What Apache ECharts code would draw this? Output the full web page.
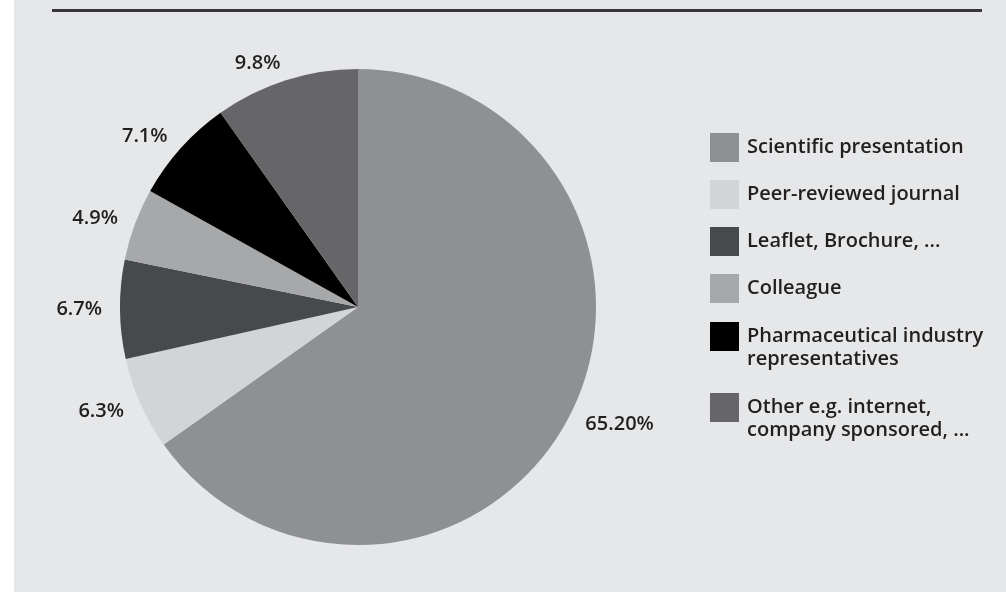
<!DOCTYPE html>
<html>
<head>
<meta charset="utf-8">
<script src="https://cdn.jsdelivr.net/npm/echarts@6/dist/echarts.min.js"></script>
<style>
  html, body { margin: 0; padding: 0; background: #ffffff; }
  #chart { width: 1006px; height: 593px; }
</style>
</head>
<body>
<div id="chart"></div>
<script>
// ---- data ----
const categories = [
  'Scientific presentation',
  'Peer-reviewed journal',
  'Leaflet, Brochure, ...',
  'Colleague',
  'Pharmaceutical industry\nrepresentatives',
  'Other e.g. internet,\ncompany sponsored, ...'
];
const values = [65.2, 6.3, 6.7, 4.9, 7.1, 9.8];
const valueLabels = ['65.20%', '6.3%', '6.7%', '4.9%', '7.1%', '9.8%'];
const colors = ['#8f9094', '#d3d4d6', '#48494b', '#a7a8aa', '#000000', '#666668'];

const textColor = '#231f20';
const fontFamily = "'Open Sans', 'Noto Sans', sans-serif";

const chart = echarts.init(document.getElementById('chart'), null, { renderer: 'canvas' });

const legendText = {
  color: textColor, fontFamily: fontFamily, fontSize: 20, fontWeight: 600,
  lineHeight: 23, padding: [0, 0, 0, 3]
};

function legendBase(names, top, twoLine) {
  return {
    orient: 'vertical', left: 710, top: top, padding: 0,
    itemWidth: 29, itemHeight: 29, itemGap: 18, icon: 'rect',
    selectedMode: false,
    data: names, textStyle: legendText,
    // for two-line names, a leading empty line keeps the first text line centred on the swatch
    formatter: twoLine ? function (n) { return '\n' + n; } : '{name}'
  };
}

chart.setOption({
  backgroundColor: '#ffffff',
  animation: false,
  color: colors,
  graphic: [
    { type: 'rect', z: -10, silent: true, shape: { x: 14, y: 0, width: 992, height: 592 }, style: { fill: '#e6e7e9' } },
    { type: 'line', z: -9, silent: true, shape: { x1: 52, y1: 10.5, x2: 982, y2: 10.5 }, style: { stroke: '#39373b', lineWidth: 3 } }
  ],
  legend: [
    legendBase(categories.slice(0, 4), 133, false),
    legendBase([categories[4]], 302, true),
    legendBase([categories[5]], 373, true)
  ],
  series: [{
    type: 'pie',
    center: [358, 307],
    radius: 238,
    startAngle: 90,
    clockwise: true,
    avoidLabelOverlap: false,
    emphasis: { disabled: true },
    itemStyle: { borderWidth: 0 },
    label: {
      show: true,
      position: 'outside',
      distanceToLabelLine: 0,
      color: textColor,
      fontFamily: fontFamily,
      fontSize: 20,
      fontWeight: 600,
      formatter: function (p) { return valueLabels[p.dataIndex]; }
    },
    labelLine: { show: false, length: 18, length2: 0 },
    data: categories.map(function (c, i) { return { name: c, value: values[i] }; })
  }]
});
</script>
</body>
</html>
